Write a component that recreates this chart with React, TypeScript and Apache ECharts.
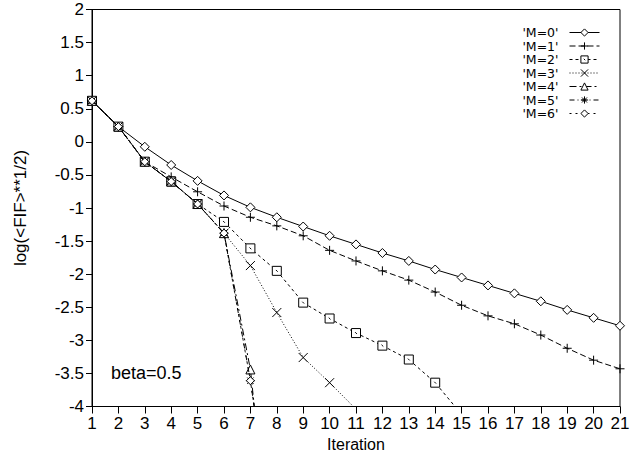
import React, { useEffect, useRef } from "react";
import * as echarts from "echarts";

const iterations = [1, 2, 3, 4, 5, 6, 7, 8, 9, 10, 11, 12, 13, 14, 15, 16, 17, 18, 19, 20, 21];
const m0 = [0.62, 0.23, -0.075, -0.35, -0.59, -0.81, -0.99, -1.14, -1.28, -1.42, -1.55, -1.68, -1.80, -1.93, -2.05, -2.17, -2.29, -2.41, -2.54, -2.66, -2.78];
const m1 = [0.62, 0.23, -0.30, -0.53, -0.755, -0.97, -1.14, -1.27, -1.42, -1.64, -1.80, -1.95, -2.09, -2.27, -2.47, -2.63, -2.75, -2.92, -3.12, -3.30, -3.43];
const m2 = [0.62, 0.23, -0.30, -0.60, -0.94, -1.21, -1.61, -1.95, -2.43, -2.67, -2.89, -3.08, -3.29, -3.64, -4.12];
const m3 = [0.62, 0.23, -0.30, -0.60, -0.94, -1.38, -1.87, -2.58, -3.26, -3.64, -4.04];
const m4 = [0.62, 0.23, -0.30, -0.60, -0.94, -1.38, -3.44, -7.2];
const m5 = [0.62, 0.23, -0.30, -0.60, -0.94, -1.38, -3.61, -6.4];
const m6 = [0.62, 0.23, -0.30, -0.60, -0.94, -1.38, -3.61, -6.4];
const seriesNames = ["'M=0'", "'M=1'", "'M=2'", "'M=3'", "'M=4'", "'M=5'", "'M=6'"];
const yTicks = { min: -4, max: 2, interval: 0.5 };
const xTicks = { min: 1, max: 21, interval: 1 };
const annotation = "beta=0.5";

const FONT = "'Liberation Sans', Arial, Helvetica, sans-serif";
const LEGEND_FONT = "'DejaVu Sans', 'Liberation Sans', sans-serif";

const SYM_DIAMOND = "path://M5,0L10,5L5,10L0,5Z";
const SYM_PLUS = "path://M5,0L5,10M0,5L10,5";
const SYM_SQUARE = "path://M0,0L10,0L10,10L0,10ZM4,4L6,6";
const SYM_CROSS = "path://M0,0L10,10M10,0L0,10";
const SYM_TRI = "path://M5,0L10,9L0,9Z";
const SYM_STAR = "path://M5,0L5,10M0,5L10,5M1.5,1.5L8.5,8.5M8.5,1.5L1.5,8.5";

function pairs(vals: number[]) {
  return vals.map((v, i) => [iterations[i], v]);
}

export default function App() {
  const ref = useRef<HTMLDivElement>(null);
  useEffect(() => {
    if (!ref.current) return;
    const chart = echarts.init(ref.current, undefined, { renderer: "svg" });
    const defs = [
      { data: m0, symbol: SYM_DIAMOND, size: 9, dash: "solid" as any },
      { data: m1, symbol: SYM_PLUS, size: 9, dash: [6, 3] },
      { data: m2, symbol: SYM_SQUARE, size: 9, dash: [3, 3] },
      { data: m3, symbol: SYM_CROSS, size: 9, dash: [1, 2] },
      { data: m4, symbol: SYM_TRI, size: 9, dash: [7, 3, 2, 3] },
      { data: m5, symbol: SYM_STAR, size: 9, dash: [5, 3, 1, 3] },
      { data: m6, symbol: SYM_DIAMOND, size: 8, dash: [2, 4] },
    ];
    chart.setOption({
      animation: false,
      backgroundColor: "#fff",
      textStyle: { fontFamily: FONT, color: "#000" },
      grid: {
        left: 92,
        right: 23,
        top: 9.5,
        bottom: 45.5,
        show: true,
        borderColor: "#000",
        borderWidth: 1,
        backgroundColor: "transparent",
        outerBoundsMode: "none",
        containLabel: false,
      },
      legend: {
        orient: "vertical",
        right: 43,
        top: 26,
        align: "right",
        itemWidth: 30,
        itemHeight: 9,
        itemGap: 0.5,
        padding: 0,
        lineStyle: { width: 1 },
        itemStyle: { borderWidth: 1, color: "#fff", borderColor: "#000" },
        textStyle: { fontFamily: LEGEND_FONT, fontSize: 12.5, lineHeight: 12.5, color: "#000", padding: [0, 6, 0, 0] },
        data: seriesNames.map((n) => ({ name: n })),
      },
      xAxis: {
        type: "value",
        min: xTicks.min,
        max: xTicks.max,
        interval: xTicks.interval,
        name: "Iteration",
        nameLocation: "middle",
        nameGap: 21,
        nameTextStyle: { fontFamily: FONT, fontSize: 16, color: "#000" },
        axisLine: { show: true, onZero: false, lineStyle: { color: "#000", width: 1 } },
        axisTick: { show: true, length: 7, lineStyle: { color: "#000" } },
        axisLabel: { fontFamily: FONT, fontSize: 17, color: "#000", margin: 8 },
        splitLine: { show: false },
      },
      yAxis: {
        type: "value",
        min: yTicks.min,
        max: yTicks.max,
        interval: yTicks.interval,
        name: "log(<FIF>**1/2)",
        nameLocation: "middle",
        nameGap: 63,
        nameRotate: 90,
        nameTextStyle: { fontFamily: FONT, fontSize: 17, color: "#000" },
        axisLine: { show: true, onZero: false, lineStyle: { color: "#000", width: 1 } },
        axisTick: { show: true, length: 6, lineStyle: { color: "#000" } },
        axisLabel: { fontFamily: FONT, fontSize: 17, color: "#000", margin: 8 },
        splitLine: { show: false },
      },
      graphic: [
        {
          type: "text",
          left: 111,
          top: 364,
          style: { text: annotation, fontFamily: FONT, fontSize: 18, fill: "#000" },
        },
      ],
      series: defs.map((d, i) => ({
        name: seriesNames[i],
        type: "line",
        data: pairs(d.data),
        clip: true,
        symbol: d.symbol,
        symbolSize: d.size,
        showAllSymbol: true,
        lineStyle: { color: "#000", width: 1, type: d.dash },
        itemStyle: { color: "#fff", borderColor: "#000", borderWidth: 1 },
        emphasis: { disabled: true },
        z: 2 + i,
      })),
    });
    return () => chart.dispose();
  }, []);
  return (
    <div
      ref={ref}
      style={{ position: "fixed", left: 0, top: 0, width: 643, height: 452 }}
    />
  );
}
